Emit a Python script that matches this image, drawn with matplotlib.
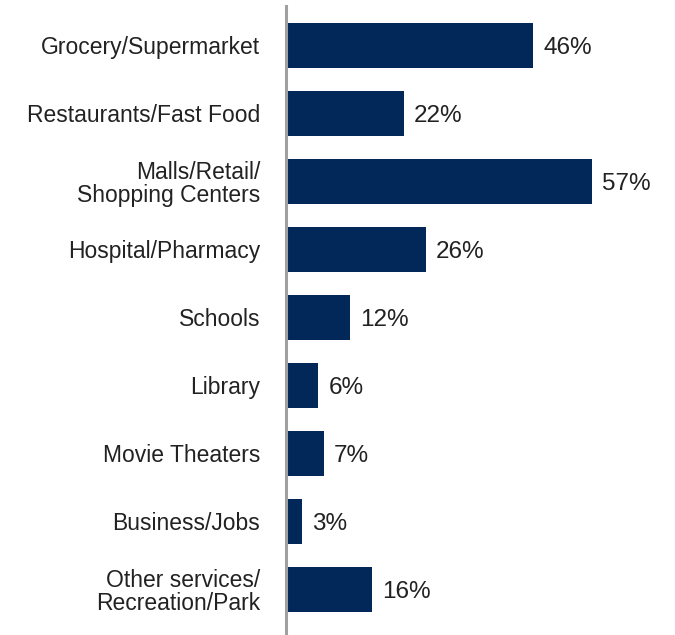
import numpy as np
import matplotlib.pyplot as plt

# survey categories and share of respondents (%)
categories = ['Grocery/Supermarket', 'Restaurants/Fast Food', 'Malls/Retail/\nShopping Centers',
              'Hospital/Pharmacy', 'Schools', 'Library', 'Movie Theaters', 'Business/Jobs',
              'Other services/\nRecreation/Park']
values = [46, 22, 57, 26, 12, 6, 7, 3, 16]

barColor = '#012858'
textColor = '#222222'
plt.rcParams['font.family'] = ['Liberation Sans', 'DejaVu Sans']

fig = plt.figure(figsize=(6.75, 6.35), dpi=100)
ax = fig.add_axes([286/675, 0, 389/675, 629/635])   # left edge on the grey axis line

y = np.arange(len(categories))
ax.barh(y, values, height=0.66, color=barColor, zorder=2)

# value labels to the right of each bar
for i, v in enumerate(values):
    ax.text(v + 1.9, i, f'{v}%', va='center_baseline', ha='left', fontsize=17.5, color=textColor)

ax.set_xlim(0, 72.5)
ax.set_ylim(8.67, -0.58)
ax.set_yticks(y)
ax.set_yticklabels(categories, fontsize=16.5, color=textColor, linespacing=1.0)
ax.tick_params(axis='y', length=0, pad=18.7)
ax.set_xticks([])

for s in ['top', 'right', 'bottom']:
    ax.spines[s].set_visible(False)
ax.spines['left'].set_color('#a0a0a0')
ax.spines['left'].set_linewidth(2.2)

fig.savefig('out.png', dpi=100)
